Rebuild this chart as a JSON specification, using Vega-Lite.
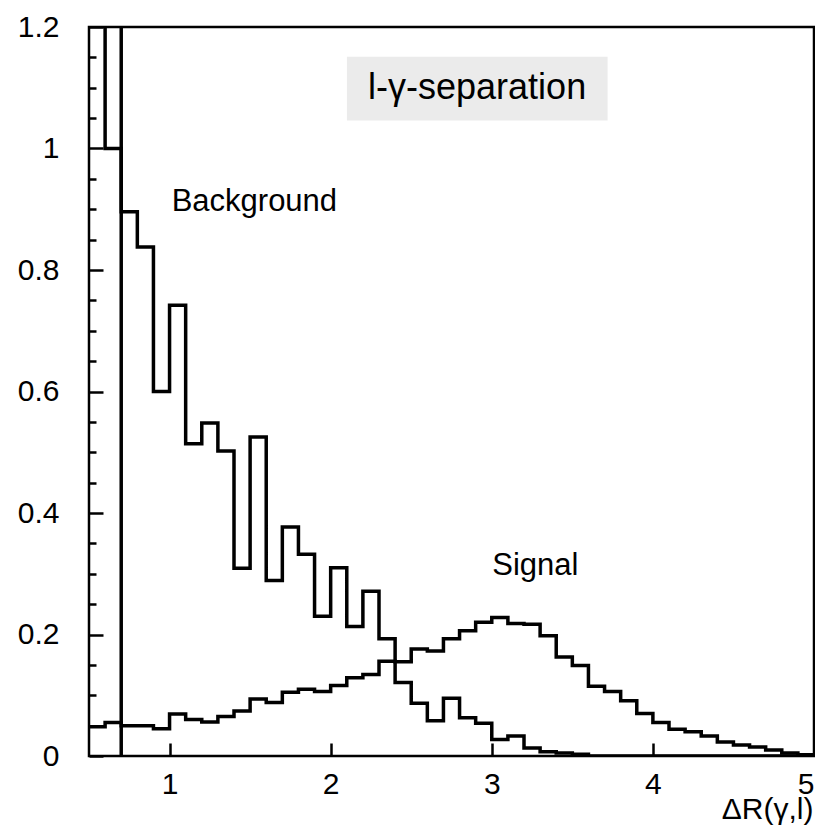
{
  "$schema": "https://vega.github.io/schema/vega-lite/v6.json",
  "autosize": {"type": "none"},
  "width": 725,
  "height": 729,
  "padding": {"left": 89, "top": 27, "right": 1, "bottom": 71},
  "background": "white",
  "config": {
    "view": {"stroke": "black", "strokeWidth": 2.5},
    "font": "Liberation Sans",
    "axis": {
      "domain": false,
      "grid": false,
      "labelFont": "Liberation Sans",
      "labelFontSize": 30,
      "labelColor": "black",
      "tickColor": "black",
      "tickWidth": 2.5,
      "titleFont": "Liberation Sans",
      "titleColor": "black",
      "titleFontWeight": "normal"
    }
  },
  "datasets": {
    "hist": [
      {"series": "Background", "x": 0.5, "y": 1.5},
      {"series": "Background", "x": 0.6, "y": 1.0},
      {"series": "Background", "x": 0.7, "y": 0.896},
      {"series": "Background", "x": 0.8, "y": 0.838},
      {"series": "Background", "x": 0.9, "y": 0.6},
      {"series": "Background", "x": 1.0, "y": 0.742},
      {"series": "Background", "x": 1.1, "y": 0.514},
      {"series": "Background", "x": 1.2, "y": 0.548},
      {"series": "Background", "x": 1.3, "y": 0.502},
      {"series": "Background", "x": 1.4, "y": 0.309},
      {"series": "Background", "x": 1.5, "y": 0.525},
      {"series": "Background", "x": 1.6, "y": 0.289},
      {"series": "Background", "x": 1.7, "y": 0.377},
      {"series": "Background", "x": 1.8, "y": 0.332},
      {"series": "Background", "x": 1.9, "y": 0.23},
      {"series": "Background", "x": 2.0, "y": 0.31},
      {"series": "Background", "x": 2.1, "y": 0.213},
      {"series": "Background", "x": 2.2, "y": 0.271},
      {"series": "Background", "x": 2.3, "y": 0.193},
      {"series": "Background", "x": 2.4, "y": 0.121},
      {"series": "Background", "x": 2.5, "y": 0.087},
      {"series": "Background", "x": 2.6, "y": 0.058},
      {"series": "Background", "x": 2.7, "y": 0.095},
      {"series": "Background", "x": 2.8, "y": 0.063},
      {"series": "Background", "x": 2.9, "y": 0.054},
      {"series": "Background", "x": 3.0, "y": 0.027},
      {"series": "Background", "x": 3.1, "y": 0.033},
      {"series": "Background", "x": 3.2, "y": 0.013},
      {"series": "Background", "x": 3.3, "y": 0.007},
      {"series": "Background", "x": 3.4, "y": 0.005},
      {"series": "Background", "x": 3.5, "y": 0.003},
      {"series": "Background", "x": 3.6, "y": 0},
      {"series": "Background", "x": 5.0, "y": 0},
      {"series": "Signal", "x": 0.5, "y": 0.048},
      {"series": "Signal", "x": 0.6, "y": 0.055},
      {"series": "Signal", "x": 0.7, "y": 0.05},
      {"series": "Signal", "x": 0.8, "y": 0.05},
      {"series": "Signal", "x": 0.9, "y": 0.045},
      {"series": "Signal", "x": 1.0, "y": 0.069},
      {"series": "Signal", "x": 1.1, "y": 0.06},
      {"series": "Signal", "x": 1.2, "y": 0.056},
      {"series": "Signal", "x": 1.3, "y": 0.065},
      {"series": "Signal", "x": 1.4, "y": 0.074},
      {"series": "Signal", "x": 1.5, "y": 0.094},
      {"series": "Signal", "x": 1.6, "y": 0.088},
      {"series": "Signal", "x": 1.7, "y": 0.105},
      {"series": "Signal", "x": 1.8, "y": 0.11},
      {"series": "Signal", "x": 1.9, "y": 0.106},
      {"series": "Signal", "x": 2.0, "y": 0.116},
      {"series": "Signal", "x": 2.1, "y": 0.129},
      {"series": "Signal", "x": 2.2, "y": 0.134},
      {"series": "Signal", "x": 2.3, "y": 0.156},
      {"series": "Signal", "x": 2.4, "y": 0.155},
      {"series": "Signal", "x": 2.5, "y": 0.176},
      {"series": "Signal", "x": 2.6, "y": 0.173},
      {"series": "Signal", "x": 2.7, "y": 0.193},
      {"series": "Signal", "x": 2.8, "y": 0.206},
      {"series": "Signal", "x": 2.9, "y": 0.22},
      {"series": "Signal", "x": 3.0, "y": 0.228},
      {"series": "Signal", "x": 3.1, "y": 0.218},
      {"series": "Signal", "x": 3.2, "y": 0.217},
      {"series": "Signal", "x": 3.3, "y": 0.198},
      {"series": "Signal", "x": 3.4, "y": 0.163},
      {"series": "Signal", "x": 3.5, "y": 0.149},
      {"series": "Signal", "x": 3.6, "y": 0.115},
      {"series": "Signal", "x": 3.7, "y": 0.106},
      {"series": "Signal", "x": 3.8, "y": 0.091},
      {"series": "Signal", "x": 3.9, "y": 0.07},
      {"series": "Signal", "x": 4.0, "y": 0.055},
      {"series": "Signal", "x": 4.1, "y": 0.044},
      {"series": "Signal", "x": 4.2, "y": 0.04},
      {"series": "Signal", "x": 4.3, "y": 0.033},
      {"series": "Signal", "x": 4.4, "y": 0.023},
      {"series": "Signal", "x": 4.5, "y": 0.018},
      {"series": "Signal", "x": 4.6, "y": 0.015},
      {"series": "Signal", "x": 4.7, "y": 0.01},
      {"series": "Signal", "x": 4.8, "y": 0.005},
      {"series": "Signal", "x": 4.9, "y": 0.002},
      {"series": "Signal", "x": 5.0, "y": 0.002}
    ]
  },
  "resolve": {"axis": {"y": "independent"}},
  "layer": [
    {
      "data": {"values": [{}]},
      "mark": {"type": "rect", "color": "#ebebeb"},
      "encoding": {
        "x": {"datum": 2.101, "type": "quantitative", "scale": {"domain": [0.5, 5], "nice": false, "zero": false}, "axis": {"values": [1, 2, 3, 4, 5], "title": "ΔR(γ,l)", "tickSize": -13, "labelPadding": 26, "titleFontSize": 30, "titleAnchor": "end", "titleAlign": "right", "titleBaseline": "alphabetic", "titleX": 724, "titleY": 62}},
        "x2": {"datum": 3.719},
        "y": {"datum": 1.151, "type": "quantitative", "scale": {"domain": [0, 1.2], "nice": false, "zero": true}, "axis": null},
        "y2": {"datum": 1.046}
      }
    },
    {
      "data": {"name": "hist"},
      "transform": [{"filter": "datum.series === 'Background'"}],
      "mark": {"type": "line", "interpolate": "step-after", "color": "black", "strokeWidth": 3.5, "clip": true},
      "encoding": {
        "x": {"field": "x", "type": "quantitative", "axis": {"values": [1, 2, 3, 4, 5], "title": "ΔR(γ,l)", "tickSize": -13, "labelPadding": 26, "titleFontSize": 30, "titleAnchor": "end", "titleAlign": "right", "titleBaseline": "alphabetic", "titleX": 724, "titleY": 62}},
        "y": {"field": "y", "type": "quantitative", "axis": {"orient": "left", "values": [0, 0.2, 0.4, 0.6, 0.8, 1, 1.2], "format": "~g", "tickSize": -14, "labelPadding": 44, "title": null}}
      }
    },
    {
      "data": {"name": "hist"},
      "transform": [{"filter": "datum.series === 'Signal'"}],
      "mark": {"type": "line", "interpolate": "step-after", "color": "black", "strokeWidth": 3.5, "clip": true},
      "encoding": {
        "x": {"field": "x", "type": "quantitative", "axis": {"values": [1, 2, 3, 4, 5], "title": "ΔR(γ,l)", "tickSize": -13, "labelPadding": 26, "titleFontSize": 30, "titleAnchor": "end", "titleAlign": "right", "titleBaseline": "alphabetic", "titleX": 724, "titleY": 62}},
        "y": {"field": "y", "type": "quantitative", "axis": {"orient": "left", "values": [0.05, 0.1, 0.15, 0.25, 0.3, 0.35, 0.45, 0.5, 0.55, 0.65, 0.7, 0.75, 0.85, 0.9, 0.95, 1.05, 1.1, 1.15], "tickSize": -7, "labels": false, "title": null}}
      }
    },
    {
      "data": {"values": [{}]},
      "mark": {"type": "rule", "color": "black", "strokeWidth": 3.5},
      "encoding": {
        "x": {"datum": 0.7, "type": "quantitative", "axis": {"values": [1, 2, 3, 4, 5], "title": "ΔR(γ,l)", "tickSize": -13, "labelPadding": 26, "titleFontSize": 30, "titleAnchor": "end", "titleAlign": "right", "titleBaseline": "alphabetic", "titleX": 724, "titleY": 62}}
      }
    },
    {
      "data": {"values": [{"label": "l-γ-separation", "x": 2.909, "y": 1.081}]},
      "mark": {"type": "text", "color": "black", "font": "Liberation Sans", "baseline": "alphabetic", "align": "center", "fontSize": 36},
      "encoding": {
        "x": {"field": "x", "type": "quantitative", "axis": {"values": [1, 2, 3, 4, 5], "title": "ΔR(γ,l)", "tickSize": -13, "labelPadding": 26, "titleFontSize": 30, "titleAnchor": "end", "titleAlign": "right", "titleBaseline": "alphabetic", "titleX": 724, "titleY": 62}},
        "y": {"field": "y", "type": "quantitative", "axis": null},
        "text": {"field": "label"}
      }
    },
    {
      "data": {"values": [{"label": "Background", "x": 1.013, "y": 0.8976}, {"label": "Signal", "x": 3.003, "y": 0.298}]},
      "mark": {"type": "text", "color": "black", "font": "Liberation Sans", "baseline": "alphabetic", "align": "left", "fontSize": 31},
      "encoding": {
        "x": {"field": "x", "type": "quantitative", "axis": {"values": [1, 2, 3, 4, 5], "title": "ΔR(γ,l)", "tickSize": -13, "labelPadding": 26, "titleFontSize": 30, "titleAnchor": "end", "titleAlign": "right", "titleBaseline": "alphabetic", "titleX": 724, "titleY": 62}},
        "y": {"field": "y", "type": "quantitative", "axis": null},
        "text": {"field": "label"}
      }
    }
  ]
}
